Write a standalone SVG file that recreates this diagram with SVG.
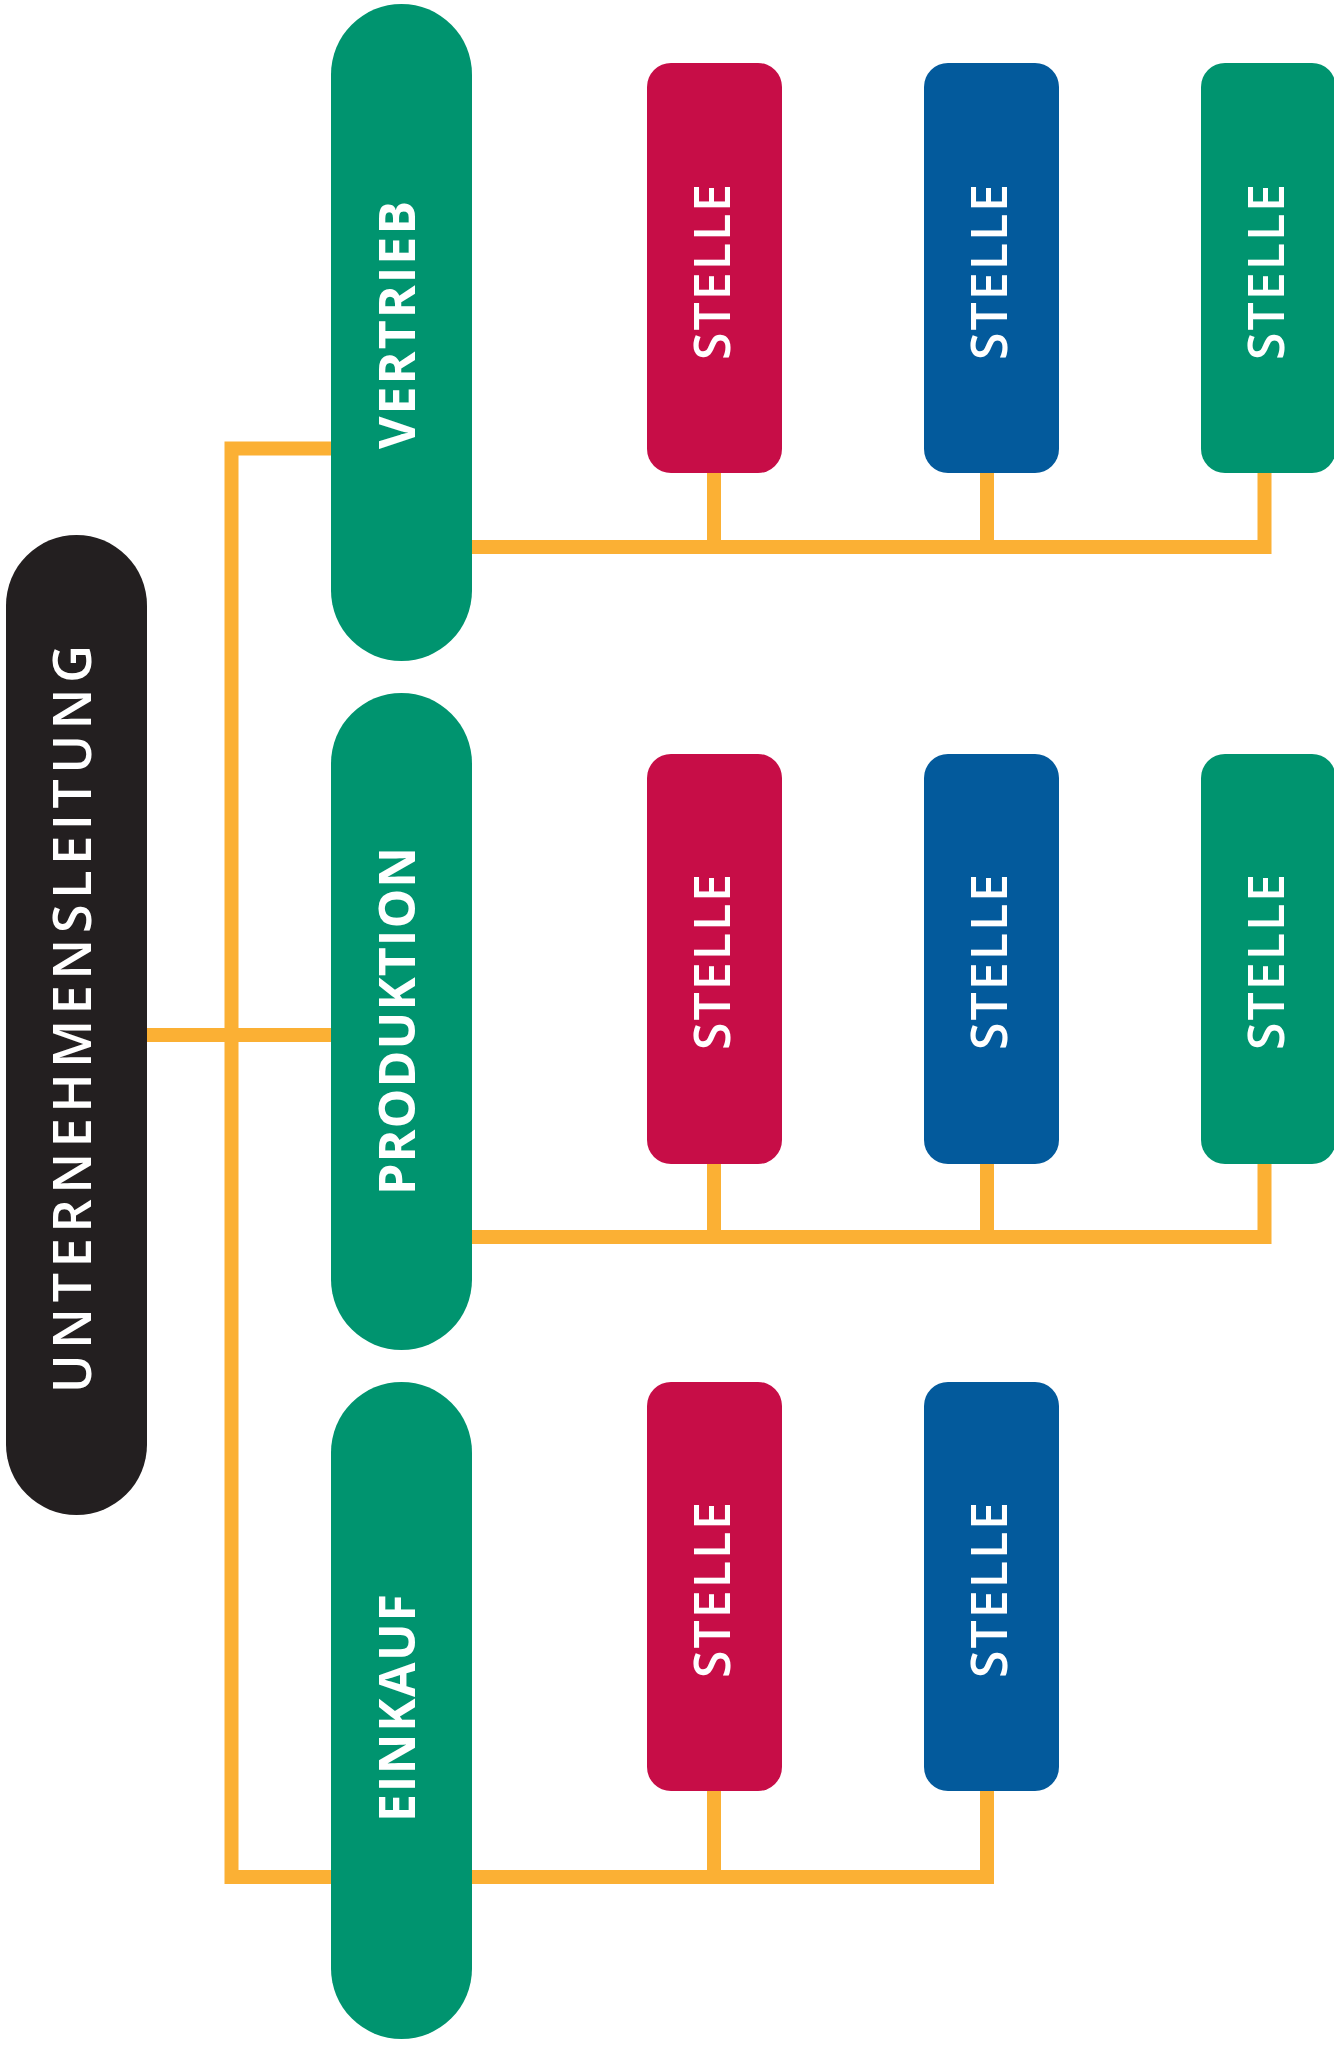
<svg xmlns="http://www.w3.org/2000/svg" width="1334" height="2045" viewBox="0 0 1334 2045">
  <style>
    .link { fill: none; stroke: #FBB034; stroke-width: 14; stroke-linejoin: miter; stroke-linecap: butt; }
    .dept { fill: #00946F; }
    .head { fill: #231F20; }
    .red { fill: #C70D47; }
    .blue { fill: #035A9C; }
    .green { fill: #00946F; }
    .lbl { fill: #FFFFFF; font-family: "Open Sans", "Liberation Sans", sans-serif; text-anchor: middle; }
    .dl { font-size: 50px; font-weight: 700; }
    .hl { font-size: 52px; font-weight: 600; }
    .sl { font-size: 50px; font-weight: 600; }
  </style>

  <!-- connectors -->
  <g id="connectors">
    <!-- trunk: Vertrieb branch, main line, Einkauf bus -->
    <path class="link" d="M 987 1791 V 1877 H 231.5 V 448.5 H 340"/>
    <path class="link" d="M 714 1791 V 1877"/>
    <!-- head to Produktion -->
    <path class="link" d="M 140 1035 H 340"/>
    <!-- Vertrieb bus -->
    <path class="link" d="M 460 547 H 1264.5 V 470"/>
    <path class="link" d="M 714 470 V 547"/>
    <path class="link" d="M 987 470 V 547"/>
    <!-- Produktion bus -->
    <path class="link" d="M 460 1237 H 1264.5 V 1160"/>
    <path class="link" d="M 714 1160 V 1237"/>
    <path class="link" d="M 987 1160 V 1237"/>
  </g>

  <!-- head node -->
  <g id="unternehmensleitung">
    <rect class="head" x="6" y="535" width="141" height="980" rx="70.5"/>
    <text class="lbl hl" transform="translate(91 1019) rotate(-90)" textLength="748" lengthAdjust="spacing">UNTERNEHMENSLEITUNG</text>
  </g>

  <!-- departments -->
  <g id="vertrieb">
    <rect class="dept" x="331" y="4" width="141" height="657" rx="70.5"/>
    <text class="lbl dl" transform="translate(415 325) rotate(-90)" textLength="248" lengthAdjust="spacing">VERTRIEB</text>
  </g>
  <g id="produktion">
    <rect class="dept" x="331" y="693" width="141" height="657" rx="70.5"/>
    <text class="lbl dl" transform="translate(415 1021) rotate(-90)" textLength="348" lengthAdjust="spacing">PRODUKTION</text>
  </g>
  <g id="einkauf">
    <rect class="dept" x="331" y="1382" width="141" height="657" rx="70.5"/>
    <text class="lbl dl" transform="translate(415 1708) rotate(-90)" textLength="228" lengthAdjust="spacing">EINKAUF</text>
  </g>

  <!-- positions, Vertrieb -->
  <g id="stelle-v1">
    <rect class="red" x="647" y="63" width="135" height="410" rx="24"/>
    <text class="lbl sl" transform="translate(730 272) rotate(-90)" textLength="176" lengthAdjust="spacing">STELLE</text>
  </g>
  <g id="stelle-v2">
    <rect class="blue" x="924" y="63" width="135" height="410" rx="24"/>
    <text class="lbl sl" transform="translate(1007 272) rotate(-90)" textLength="176" lengthAdjust="spacing">STELLE</text>
  </g>
  <g id="stelle-v3">
    <rect class="green" x="1201" y="63" width="135" height="410" rx="24"/>
    <text class="lbl sl" transform="translate(1284 272) rotate(-90)" textLength="176" lengthAdjust="spacing">STELLE</text>
  </g>

  <!-- positions, Produktion -->
  <g id="stelle-p1">
    <rect class="red" x="647" y="754" width="135" height="410" rx="24"/>
    <text class="lbl sl" transform="translate(730 962) rotate(-90)" textLength="176" lengthAdjust="spacing">STELLE</text>
  </g>
  <g id="stelle-p2">
    <rect class="blue" x="924" y="754" width="135" height="410" rx="24"/>
    <text class="lbl sl" transform="translate(1007 962) rotate(-90)" textLength="176" lengthAdjust="spacing">STELLE</text>
  </g>
  <g id="stelle-p3">
    <rect class="green" x="1201" y="754" width="135" height="410" rx="24"/>
    <text class="lbl sl" transform="translate(1284 962) rotate(-90)" textLength="176" lengthAdjust="spacing">STELLE</text>
  </g>

  <!-- positions, Einkauf -->
  <g id="stelle-e1">
    <rect class="red" x="647" y="1382" width="135" height="409" rx="24"/>
    <text class="lbl sl" transform="translate(730 1590) rotate(-90)" textLength="176" lengthAdjust="spacing">STELLE</text>
  </g>
  <g id="stelle-e2">
    <rect class="blue" x="924" y="1382" width="135" height="409" rx="24"/>
    <text class="lbl sl" transform="translate(1007 1590) rotate(-90)" textLength="176" lengthAdjust="spacing">STELLE</text>
  </g>
</svg>
